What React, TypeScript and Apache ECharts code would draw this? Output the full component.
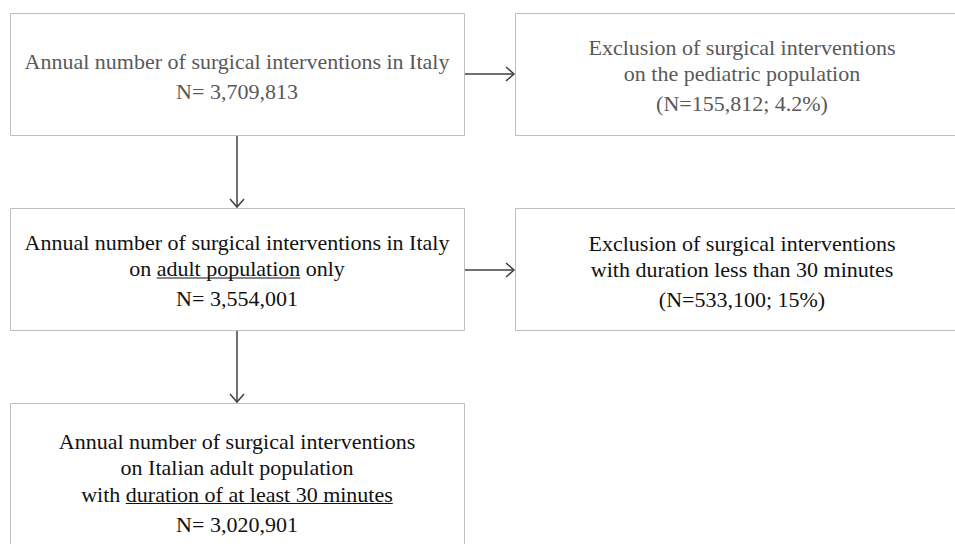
import React, { useEffect, useRef } from "react";
import * as echarts from "echarts";

type Seg = { t: string; u?: boolean };
type Line = Seg[];

const box1Lines: Line[] = [
  [{ t: "Annual number of surgical interventions in Italy" }],
  [{ t: "N= 3,709,813" }],
];
const box2Lines: Line[] = [
  [{ t: "Exclusion of surgical interventions" }],
  [{ t: "on the pediatric population" }],
  [{ t: "(N=155,812; 4.2%)" }],
];
const box3Lines: Line[] = [
  [{ t: "Annual number of surgical interventions in Italy" }],
  [{ t: "on " }, { t: "adult population", u: true }, { t: " only" }],
  [{ t: "N= 3,554,001" }],
];
const box4Lines: Line[] = [
  [{ t: "Exclusion of surgical interventions" }],
  [{ t: "with duration less than 30 minutes" }],
  [{ t: "(N=533,100; 15%)" }],
];
const box5Lines: Line[] = [
  [{ t: "Annual number of surgical interventions" }],
  [{ t: "on Italian adult population" }],
  [{ t: "with " }, { t: "duration of at least 30 minutes", u: true }],
  [{ t: "N= 3,020,901" }],
];

const FONT_SIZE = 22;
const FONT_FAMILY = "'Liberation Serif', 'Times New Roman', serif";
const BORDER = "#bfbfbf";
const ARROW = "#404040";
const GRAY_TEXT = "#595959";
const DARK_TEXT = "#111111";

const boxes = [
  { lines: box1Lines, x: 10, y: 13, w: 454, h: 122, color: GRAY_TEXT, firstY: 61, cx: 237 },
  { lines: box2Lines, x: 515, y: 13, w: 460, h: 122, color: GRAY_TEXT, firstY: 47, cx: 742 },
  { lines: box3Lines, x: 10, y: 208, w: 454, h: 122, color: DARK_TEXT, firstY: 242, cx: 237 },
  { lines: box4Lines, x: 515, y: 208, w: 460, h: 122, color: DARK_TEXT, firstY: 243, cx: 742 },
  { lines: box5Lines, x: 10, y: 403, w: 454, h: 160, color: DARK_TEXT, firstY: 441, cx: 237 },
];

const LINE_GAP = 26.5;
const N_GAP = 30;

export default function App() {
  const ref = useRef<HTMLDivElement>(null);
  useEffect(() => {
    document.body.style.margin = "0";
    if (!ref.current) return;
    const chart = echarts.init(ref.current, undefined, { renderer: "svg" });
    const canvas = document.createElement("canvas");
    const ctx = canvas.getContext("2d")!;
    const font = `${FONT_SIZE}px ${FONT_FAMILY}`;
    ctx.font = font;
    const measure = (s: string) => ctx.measureText(s).width;

    const elements: any[] = [];
    boxes.forEach((b) => {
      elements.push({
        type: "rect",
        shape: { x: b.x + 0.5, y: b.y + 0.5, width: b.w, height: b.h },
        style: { fill: "#ffffff", stroke: BORDER, lineWidth: 1 },
        z: 1,
      });
      let y = b.firstY;
      b.lines.forEach((line, i) => {
        if (i > 0) {
          const isLast = i === b.lines.length - 1;
          y += isLast ? N_GAP : LINE_GAP;
        }
        const total = line.reduce((s, seg) => s + measure(seg.t), 0);
        let sx = b.cx - total / 2;
        line.forEach((seg) => {
          const w = measure(seg.t);
          elements.push({
            type: "text",
            x: sx,
            y: y,
            style: {
              text: seg.t,
              fill: b.color,
              font,
              textAlign: "left",
              textVerticalAlign: "middle",
            },
            z: 3,
          });
          if (seg.u) {
            elements.push({
              type: "line",
              shape: { x1: sx, y1: y + 9.5, x2: sx + w, y2: y + 9.5 },
              style: { stroke: b.color, lineWidth: 1 },
              z: 3,
            });
          }
          sx += w;
        });
      });
    });

    const arrowStyle = { stroke: ARROW, lineWidth: 1.5, fill: "none" };
    [74, 270].forEach((ay) => {
      elements.push({ type: "line", shape: { x1: 465, y1: ay, x2: 514, y2: ay }, style: arrowStyle, z: 2 });
      elements.push({
        type: "polyline",
        shape: { points: [[506, ay - 7], [514, ay], [506, ay + 7]] },
        style: arrowStyle,
        z: 2,
      });
    });
    [
      [136, 207],
      [331, 402],
    ].forEach(([y1, y2]) => {
      elements.push({ type: "line", shape: { x1: 237, y1, x2: 237, y2 }, style: arrowStyle, z: 2 });
      elements.push({
        type: "polyline",
        shape: { points: [[230, y2 - 8], [237, y2], [244, y2 - 8]] },
        style: arrowStyle,
        z: 2,
      });
    });

    chart.setOption({
      animation: false,
      backgroundColor: "#ffffff",
      graphic: { elements },
    });
    return () => chart.dispose();
  }, []);
  return <div ref={ref} style={{ width: 955, height: 544 }} />;
}
